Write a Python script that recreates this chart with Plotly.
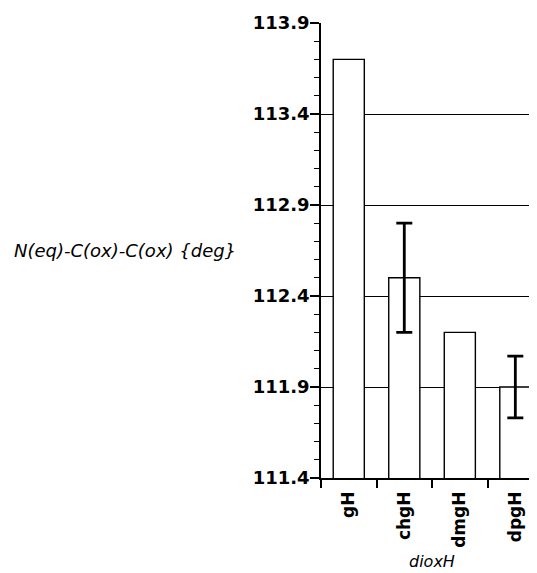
import plotly.graph_objects as go

categories = ["gH", "chgH", "dmgH", "dpgH"]
values = [113.7, 112.5, 112.2, 111.9]
err_categories = ["chgH", "dpgH"]
err_values = [112.5, 111.9]
err_sizes = [0.3, 0.17]
y_ticks = [111.4, 111.9, 112.4, 112.9, 113.4, 113.9]

# page body has an 8px margin: size/margins compensated so the plot lands in place
OFF = 8
L, T, PW, PH = 321 - OFF, 23 - OFF, 216, 455
W, H = 537 - OFF, 573 - OFF

fig = go.Figure()
fig.add_trace(go.Bar(
    x=categories, y=values,
    marker=dict(color="white", line=dict(color="black", width=1.4)),
    width=0.56,
))
fig.add_trace(go.Scatter(
    x=err_categories, y=err_values, mode="markers",
    marker=dict(size=1, color="rgba(0,0,0,0)"),
    error_y=dict(type="data", array=err_sizes, visible=True, color="black",
                 thickness=2.8, width=8),
    cliponaxis=False,
))

fig.update_layout(
    width=W, height=H,
    margin=dict(l=L, r=W - L - PW, t=T, b=H - T - PH, pad=0),
    plot_bgcolor="white", paper_bgcolor="white",
    showlegend=False,
    font=dict(family="DejaVu Sans", color="black"),
    xaxis=dict(
        range=[-0.5, 3.39], showline=True, linecolor="black", linewidth=1.5,
        ticks="outside", tickson="boundaries", ticklen=8, tickcolor="black", tickwidth=1.5,
        tickangle=-90, showgrid=False, automargin=False, ticklabelstandoff=5,
        tickfont=dict(family="DejaVu Sans", size=17, weight="bold", color="black"),
    ),
    yaxis=dict(
        range=[111.4, 113.9], tickvals=y_ticks, ticktext=[f"{v:.1f}" for v in y_ticks],
        showline=True, linecolor="black", linewidth=1.5, automargin=False,
        ticks="outside", ticklen=9, tickcolor="black", tickwidth=1.5,
        ticklabelstandoff=-3,
        showgrid=True, gridcolor="black", gridwidth=1, zeroline=False,
        tickfont=dict(family="DejaVu Sans", size=18, weight="bold", color="black"),
        minor=dict(dtick=0.1, tick0=111.4, ticks="outside", ticklen=5,
                   tickcolor="black", tickwidth=1.2, showgrid=False),
    ),
    annotations=[
        dict(text="N(eq)-C(ox)-C(ox) {deg}", xref="paper", yref="paper",
             x=(238 - 321) / PW, y=0.5, xanchor="right", yanchor="middle",
             showarrow=False,
             font=dict(family="DejaVu Sans", size=18, style="italic", color="black")),
        dict(text="dioxH", xref="x", yref="paper", x=1.5, y=-(561 - 478) / PH,
             xanchor="center", yanchor="middle", showarrow=False, borderpad=0,
             font=dict(family="DejaVu Sans", size=16, style="italic", color="black")),
    ],
)

fig.write_html("out.html")
